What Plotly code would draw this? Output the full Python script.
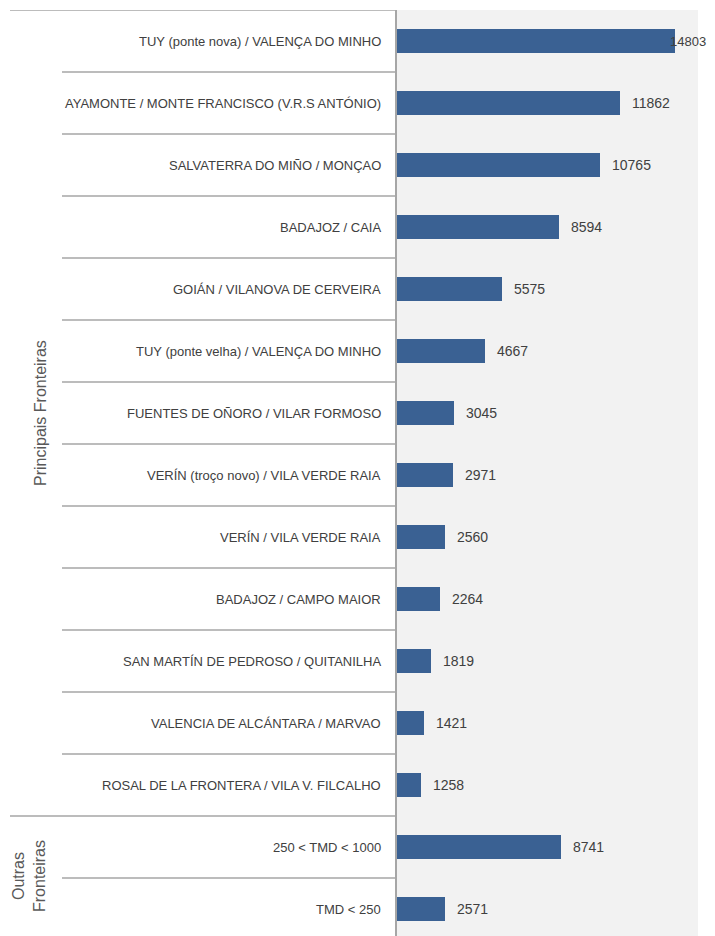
import plotly.graph_objects as go

categories = [
    "TUY (ponte nova) / VALENÇA DO MINHO",
    "AYAMONTE / MONTE FRANCISCO (V.R.S ANTÓNIO)",
    "SALVATERRA DO MIÑO / MONÇAO",
    "BADAJOZ / CAIA",
    "GOIÁN / VILANOVA DE CERVEIRA",
    "TUY (ponte velha) / VALENÇA DO MINHO",
    "FUENTES DE OÑORO / VILAR FORMOSO",
    "VERÍN (troço novo) / VILA VERDE RAIA",
    "VERÍN / VILA VERDE RAIA",
    "BADAJOZ / CAMPO MAIOR",
    "SAN MARTÍN DE PEDROSO / QUITANILHA",
    "VALENCIA DE ALCÁNTARA / MARVAO",
    "ROSAL DE LA FRONTERA / VILA V. FILCALHO",
    "250 < TMD < 1000",
    "TMD < 250",
]
values = [14803, 11862, 10765, 8594, 5575, 4667, 3045, 2971, 2560, 2264, 1819, 1421, 1258, 8741, 2571]
groups = ["Principais Fronteiras"] * 13 + ["Outras<br>Fronteiras"] * 2

# page has an 8px body margin; figure sized to fit the viewport
OFF = 8
W, H = 715 - OFF, 936 - OFF
ML, MR, MT, MB = 397 - OFF, 17, 10 - OFF, 0
pw = W - ML - MR
ph = H - MT - MB
row_px = 62
n = len(categories)
ypos = list(range(n))
y_bottom = -0.5 + ph / row_px

BAR = "#3A6193"
LINE = "#A6A6A6"
TXT = "#404040"
FONT = "Liberation Sans Narrow, Liberation Sans, Arial"

fig = go.Figure(go.Bar(
    x=values, y=ypos, orientation="h",
    marker=dict(color=BAR, line=dict(width=0)),
    width=0.39, hoverinfo="skip",
))

def px_to_paper_x(px):
    # px given in page coordinates
    return (px - OFF - ML) / pw

annotations = []
shapes = []
for i, (c, v) in enumerate(zip(categories, values)):
    annotations.append(dict(
        x=0, xref="paper", y=i, yref="y", text=c, showarrow=False,
        xanchor="right", xshift=-14, font=dict(family=FONT, size=13, color=TXT),
    ))
    long_bar = v > 14000
    annotations.append(dict(
        x=v, xref="x", y=i, yref="y", text=str(v), showarrow=False,
        xanchor="left", xshift=(-7 if long_bar else 10),
        font=dict(family=FONT, size=(13 if long_bar else 14), color=TXT),
    ))

# separators between rows
for i in range(n):
    yb = i - 0.5
    if i == 0 or groups[i] != groups[i - 1]:
        x0 = px_to_paper_x(10)
    else:
        x0 = px_to_paper_x(62)
    shapes.append(dict(type="line", xref="paper", yref="y", x0=x0, x1=0,
                       y0=yb, y1=yb, line=dict(color=LINE, width=1.5)))

# group labels
grp_names = []
for g in groups:
    if g not in grp_names:
        grp_names.append(g)
for g in grp_names:
    idx = [i for i, gg in enumerate(groups) if gg == g]
    lo, hi = idx[0] - 0.5, min(idx[-1] + 0.5, y_bottom)
    annotations.append(dict(
        x=px_to_paper_x(40 if len(idx) > 2 else 29), xref="paper",
        y=(lo + hi) / 2, yref="y", text=g, textangle=-90, showarrow=False,
        xanchor="center", yanchor="middle",
        font=dict(family="Liberation Sans, Arial", size=16, color="#595959"),
    ))

fig.update_layout(
    width=W, height=H,
    margin=dict(l=ML, r=MR, t=MT, b=MB, pad=0),
    paper_bgcolor="white", plot_bgcolor="#F2F2F2",
    showlegend=False,
    xaxis=dict(range=[0, 16000], visible=False, fixedrange=True),
    yaxis=dict(range=[y_bottom, -0.5], showticklabels=False, showgrid=False,
               zeroline=False, showline=True, linecolor=LINE, linewidth=1.5,
               ticks="", fixedrange=True),
    annotations=annotations, shapes=shapes,
    bargap=0,
)

fig.write_html("out.html")
